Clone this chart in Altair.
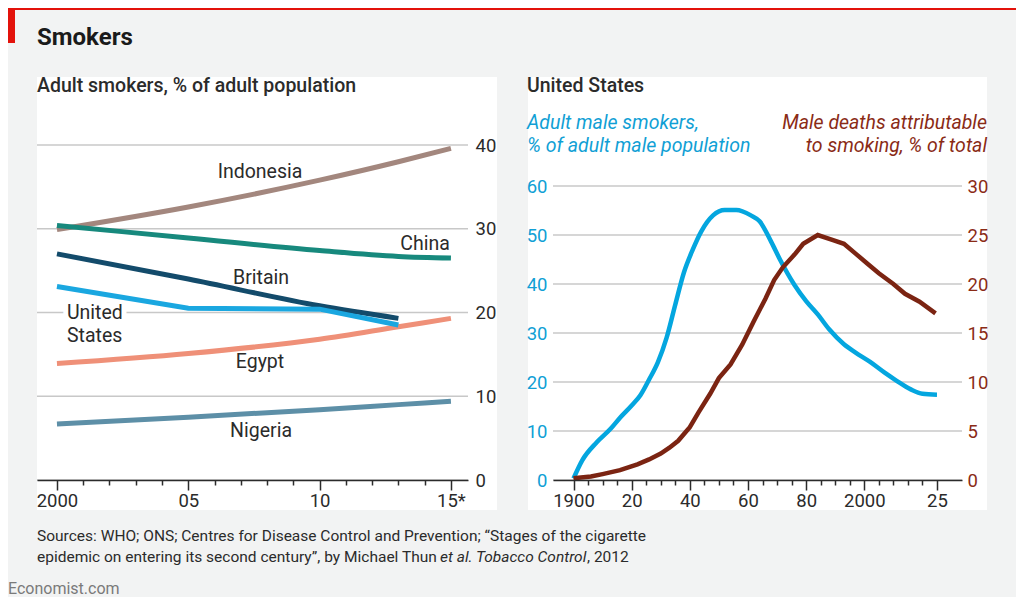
import altair as alt
import pandas as pd

FONT = "Roboto"
INK = "#2b2b2b"
BG = "#f2f3f3"
GRID = "#c8c8c8"
BLUE_TXT = "#119fd5"
BROWN_TXT = "#8a2b16"

# ---------------- left panel: adult smokers, % of adult population
left_years = [2000, 2005, 2010, 2013, 2015]
indonesia = [29.9, 32.6, 35.8, 38.0, 39.6]
china = [30.4, 28.9, 27.4, 26.7, 26.5]
britain = [27.0, 24.0, 20.8, 19.3, None]
united_states = [23.1, 20.5, 20.4, 18.5, None]
egypt = [13.9, 15.1, 16.8, 18.3, 19.3]
nigeria = [6.7, 7.5, 8.4, 9.0, 9.4]
countries = ["Indonesia", "China", "Britain", "United States", "Egypt", "Nigeria"]
country_colors = ["#a3877e", "#17897d", "#134b6b", "#1aa7e0", "#ef9078", "#5d8fa7"]
left_ticks = [2000, 2005, 2010, 2015]
left_tick_labels = ["2000", "05", "10", "15*"]
left_y_ticks = [0, 10, 20, 30, 40]

# ---------------- right panel: United States
smoker_years = [1900, 1903, 1908, 1913, 1916, 1920, 1923, 1926, 1929, 1932, 1935, 1938,
                1941, 1944, 1948, 1952, 1956, 1961, 1964, 1968, 1971, 1976, 1980, 1984,
                1988, 1993, 1997, 2002, 2007, 2011, 2016, 2020, 2025]
male_smokers = [0.3, 4.0, 7.7, 10.6, 12.7, 15.2, 17.3, 20.5, 24.0, 29.0, 35.8, 42.4,
                47.0, 50.8, 54.0, 55.1, 55.1, 54.0, 52.8, 48.6, 45.0, 39.8, 36.5, 33.8,
                30.7, 27.7, 26.0, 24.1, 21.9, 20.3, 18.5, 17.6, 17.4]
death_years = [1900, 1906, 1910, 1916, 1922, 1926, 1930, 1933, 1936, 1940, 1943, 1947,
               1950, 1954, 1958, 1962, 1966, 1969, 1972, 1976, 1979, 1984, 1989, 1993,
               1997, 2001, 2005, 2010, 2014, 2019, 2024.5]
male_deaths = [0.17, 0.35, 0.6, 1.0, 1.6, 2.1, 2.7, 3.3, 4.0, 5.4, 6.9, 8.8,
               10.4, 11.8, 13.8, 16.2, 18.5, 20.4, 21.7, 23.0, 24.1, 25.0, 24.5, 24.1,
               23.1, 22.1, 21.1, 20.0, 19.0, 18.2, 17.0]
right_ticks = [1900, 1920, 1940, 1960, 1980, 2000, 2025]
right_tick_labels = ["1900", "20", "40", "60", "80", "2000", "25"]
smoker_ticks = [0, 10, 20, 30, 40, 50, 60]
death_ticks = [0, 5, 10, 15, 20, 25, 30]

# ---------------- tables built from the lists
series = [indonesia, china, britain, united_states, egypt, nigeria]
rows = []
for name, vals in zip(countries, series):
    for yr, v in zip(left_years, vals):
        if v is not None:
            rows.append({"year": yr, "value": v, "country": name})
left_df = pd.DataFrame(rows)
us_df = left_df[left_df.country == "United States"]
other_df = left_df[left_df.country != "United States"]
smoke_df = pd.DataFrame({"year": smoker_years, "smokers": male_smokers})
death_df = pd.DataFrame({"year": death_years, "deaths": male_deaths})
one = pd.DataFrame({"k": [0]})

W_L, W_R, H = 431, 409, 335
AX_FS = 18.5
LAB_FS = 19.5


def label_expr(vals, labels):
    expr = "''"
    for v, l in zip(reversed(vals), reversed(labels)):
        expr = f"datum.value == {v} ? '{l}' : ({expr})"
    return expr


def x_axis(all_vals, major_vals, major_labels):
    test = "indexof([" + ",".join(str(v) for v in major_vals) + "], datum.value) >= 0"
    return alt.Axis(values=all_vals, labelExpr=label_expr(major_vals, major_labels),
                    tickSize={"condition": {"test": test, "value": 10}, "value": 5},
                    tickColor=INK, tickWidth=1.5, domainColor=INK, domainWidth=1.5,
                    labelColor=INK, labelFontSize=AX_FS, labelPadding=1, labelOverlap=False,
                    grid=False, title=None, zindex=1)


def px_rect(x1, x2, y1, y2, color):
    return alt.Chart(one).mark_rect(color=color).encode(
        x=alt.value(x1), x2=alt.value(x2), y=alt.value(y1), y2=alt.value(y2))


def px_text(txt, x, y, size, color, align="left", weight="normal", style="normal"):
    return alt.Chart(one).mark_text(text=txt, align=align, baseline="alphabetic", font=FONT,
                                    fontSize=size, color=color, fontWeight=weight,
                                    fontStyle=style).encode(x=alt.value(x), y=alt.value(y))


# ---------------- left panel
xl = alt.X("year:Q", scale=alt.Scale(domain=[1999.24, 2015.65], nice=False, zero=False),
           axis=x_axis(list(range(2000, 2016)), left_ticks, left_tick_labels))
yl = alt.Y("value:Q", scale=alt.Scale(domain=[0, 40], nice=False),
           axis=alt.Axis(orient="right", values=left_y_ticks, grid=False, domain=False, ticks=False,
                         labelPadding=7, labelColor=INK, labelFontSize=AX_FS, title=None, zindex=1))
color = alt.Color("country:N", scale=alt.Scale(domain=countries, range=country_colors), legend=None)

grid_left = alt.Chart(pd.DataFrame({"value": left_y_ticks})).mark_rule(
    color=GRID, strokeWidth=1.5).encode(y=yl)

lines_other = alt.Chart(other_df).mark_line(strokeWidth=5, interpolate="monotone").encode(
    x=xl, y=yl, color=color, detail="country:N")
lines_us = alt.Chart(us_df).mark_line(strokeWidth=5).encode(x=xl, y=yl, color=color)

lab_center = pd.DataFrame({"label": ["Indonesia", "Britain", "Egypt", "Nigeria"],
                           "year": [2007.73, 2007.77, 2007.73, 2007.77],
                           "value": [36.06, 23.4, 13.37, 5.13]})
lab_right = pd.DataFrame({"label": ["China"], "year": [2014.96], "value": [27.46]})
lab_left = pd.DataFrame({"label": ["United", "States"], "year": [2000.38, 2000.38],
                         "value": [19.22, 16.48]})
tstyle = dict(font=FONT, fontSize=LAB_FS, color=INK, baseline="alphabetic")
t_center = alt.Chart(lab_center).mark_text(align="center", **tstyle).encode(x=xl, y=yl, text="label:N")
t_right = alt.Chart(lab_right).mark_text(align="right", **tstyle).encode(x=xl, y=yl, text="label:N")
t_left_knock = alt.Chart(lab_left).mark_text(align="left", font=FONT, fontSize=LAB_FS, baseline="alphabetic",
                                             color="white", stroke="white", strokeWidth=10).encode(
    x=xl, y=yl, text="label:N")
t_left = alt.Chart(lab_left).mark_text(align="left", **tstyle).encode(x=xl, y=yl, text="label:N")

SRC_FS = 15.5
left = alt.layer(
    px_rect(-29, 979, -137, 451, BG),
    px_rect(-29, 979, -137, -135, "#e3120b"),
    px_rect(-29, -22, -137, -102, "#e3120b"),
    px_rect(0, 460, -68, 365, "white"),
    px_text("Smokers", 0, -100, 24, "#1a1a1a", weight="bold"),
    px_text("Adult smokers, % of adult population", 0, -53, LAB_FS, INK, weight=500),
    grid_left,
    t_left_knock,
    lines_other,
    lines_us,
    t_center, t_right, t_left,
    px_text("Sources: WHO; ONS; Centres for Disease Control and Prevention; \u201cStages of the cigarette",
            0, 396, SRC_FS, INK),
    px_text("epidemic on entering its second century\u201d, by Michael Thun", 0, 417, SRC_FS, INK),
    px_text("et al.", 403, 417, SRC_FS, INK, style="italic"),
    px_text("Tobacco Control", 439, 417, SRC_FS, INK, style="italic"),
    px_text(", 2012", 550, 417, SRC_FS, INK),
    px_text("Economist.com", -29, 449, 16, "#7a7a7a"),
).properties(width=W_L, height=H)

# ---------------- right panel
xr = alt.X("year:Q", scale=alt.Scale(domain=[1892.95, 2033.6], nice=False, zero=False),
           axis=x_axis(list(range(1900, 2030, 5)), right_ticks, right_tick_labels))
s_max = 68.37
grid_right = alt.Chart(pd.DataFrame({"g": smoker_ticks})).mark_rule(color=GRID, strokeWidth=1.5).encode(
    y=alt.Y("g:Q", scale=alt.Scale(domain=[0, s_max], nice=False), axis=None))
smoke_line = alt.Chart(smoke_df).mark_line(strokeWidth=4.5, color="#04a6df", interpolate="monotone").encode(
    x=xr,
    y=alt.Y("smokers:Q", scale=alt.Scale(domain=[0, s_max], nice=False),
            axis=alt.Axis(orient="left", values=smoker_ticks, grid=False, domain=False, ticks=False,
                          labelPadding=6, labelColor=BLUE_TXT, labelFontSize=AX_FS, title=None, zindex=1)))
death_line = alt.Chart(death_df).mark_line(strokeWidth=4.5, color="#7b2412").encode(
    x=xr,
    y=alt.Y("deaths:Q", scale=alt.Scale(domain=[0, s_max / 2], nice=False),
            axis=alt.Axis(orient="right", values=death_ticks, grid=False, domain=False, ticks=False,
                          labelPadding=5, labelColor=BROWN_TXT, labelFontSize=AX_FS, title=None, zindex=1)))

right = alt.layer(
    px_rect(-25, 434, -68, 365, "white"),
    grid_right,
    px_text("United States", -26, -53, LAB_FS, INK, weight=500),
    px_text("Adult male smokers,", -26, -16, LAB_FS, BLUE_TXT, style="italic"),
    px_text("% of adult male population", -26, 7, LAB_FS, BLUE_TXT, style="italic"),
    px_text("Male deaths attributable", 434, -16, LAB_FS, BROWN_TXT, align="right", style="italic"),
    px_text("to smoking, % of total", 434, 7, LAB_FS, BROWN_TXT, align="right", style="italic"),
    smoke_line,
    death_line,
).resolve_scale(y="independent").properties(width=W_R, height=H)

chart = alt.hconcat(left, right, spacing=85, bounds="flush").properties(
    background=BG, padding=0
).configure_view(stroke=None).configure_axis(labelFont=FONT)

chart.save("out.html", embed_options={"renderer": "svg", "actions": False})
